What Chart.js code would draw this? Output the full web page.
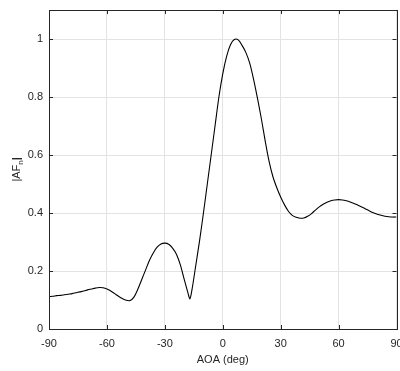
<!DOCTYPE html>
<html>
<head>
<meta charset="utf-8">
<script src="https://cdn.jsdelivr.net/npm/chart.js@4"></script>
<style>
  html, body { margin: 0; padding: 0; background: #fff; }
  #wrap { width: 400px; height: 371px; position: relative; }
</style>
</head>
<body>
<div id="wrap"><canvas id="afChart"></canvas></div>
<script>
// angle of arrival (deg) and normalised array factor
const angles = [-90, -88, -86, -84, -82, -80, -78, -76, -74, -72, -70, -68, -66, -64, -62, -60,
  -58, -56, -54, -52, -50, -48, -46, -44, -42, -40, -38, -36, -34, -32, -30, -28, -26, -24, -22,
  -20, -18, -17, -16, -14, -12, -10, -8, -6, -4, -2, 0, 2, 4, 6, 8, 10, 12, 14, 16, 18, 20, 22,
  24, 26, 28, 30, 32, 34, 36, 38, 40, 42, 44, 46, 48, 50, 52, 54, 56, 58, 60, 62, 64, 66, 68,
  70, 72, 74, 76, 78, 80, 82, 84, 86, 88, 90];
const afValues = [0.112, 0.113, 0.115, 0.116, 0.118, 0.120, 0.122, 0.125, 0.128, 0.131, 0.135, 0.138, 0.141, 0.143, 0.142, 0.138,
  0.131, 0.122, 0.113, 0.105, 0.099, 0.098, 0.110, 0.137, 0.170, 0.203, 0.236, 0.262, 0.282, 0.293, 0.296, 0.292, 0.279, 0.258, 0.222,
  0.172, 0.124, 0.104, 0.133, 0.218, 0.305, 0.40, 0.50, 0.60, 0.70, 0.80, 0.88, 0.94, 0.98, 0.998, 0.997, 0.978, 0.953, 0.916, 0.860, 0.795, 0.725, 0.648,
  0.578, 0.525, 0.487, 0.455, 0.428, 0.406, 0.392, 0.385, 0.382, 0.383, 0.389, 0.398, 0.410, 0.421, 0.430, 0.437, 0.442, 0.445, 0.446, 0.445, 0.442, 0.438, 0.433,
  0.427, 0.421, 0.414, 0.407, 0.401, 0.396, 0.392, 0.389, 0.387, 0.386, 0.386];
const xTicks = [-90, -60, -30, 0, 30, 60, 90];
const yTicks = [0, 0.2, 0.4, 0.6, 0.8, 1];

const AXIS_COLOR = '#262626';
const FONT = 'Liberation Sans, Arial, sans-serif';

// MATLAB style box with inward ticks + rotated y label with subscript
const boxPlugin = {
  id: 'boxPlugin',
  afterDraw(chart) {
    const { ctx, chartArea: a, scales } = chart;
    ctx.save();
    ctx.strokeStyle = AXIS_COLOR;
    ctx.lineWidth = 1;
    ctx.strokeRect(Math.round(a.left) + 0.5, Math.round(a.top) + 0.5,
      Math.round(a.right - a.left), Math.round(a.bottom - a.top));
    const tl = 4;
    ctx.beginPath();
    xTicks.forEach(v => {
      const px = Math.round(scales.x.getPixelForValue(v)) + 0.5;
      ctx.moveTo(px, a.bottom); ctx.lineTo(px, a.bottom - tl);
      ctx.moveTo(px, a.top); ctx.lineTo(px, a.top + tl);
    });
    yTicks.forEach(v => {
      const py = Math.round(scales.y.getPixelForValue(v)) + 0.5;
      ctx.moveTo(a.left, py); ctx.lineTo(a.left + tl, py);
      ctx.moveTo(a.right, py); ctx.lineTo(a.right - tl, py);
    });
    ctx.stroke();

    // y label |AF_n|
    ctx.translate(16, (a.top + a.bottom) / 2);
    ctx.rotate(-Math.PI / 2);
    ctx.fillStyle = AXIS_COLOR;
    ctx.textBaseline = 'alphabetic';
    ctx.font = '11px ' + FONT;
    const main = '|AF';
    const sub = 'n';
    const w1 = ctx.measureText(main).width;
    ctx.font = '8px ' + FONT;
    const w2 = ctx.measureText(sub).width;
    ctx.font = '11px ' + FONT;
    const w3 = ctx.measureText('|').width;
    let x0 = -(w1 + w2 + w3) / 2;
    ctx.fillText(main, x0, 4);
    ctx.font = '8px ' + FONT;
    ctx.fillText(sub, x0 + w1, 7);
    ctx.font = 'bold 11px ' + FONT;
    ctx.fillText('|', x0 + w1 + w2, 4);
    ctx.restore();
  }
};

const ctx = document.getElementById('afChart').getContext('2d');
const afChart = new Chart(ctx, {
  type: 'line',
  data: {
    datasets: [{
      data: angles.map((a, i) => ({ x: a, y: afValues[i] })),
      borderColor: '#000000',
      borderWidth: 1.1,
      pointRadius: 0,
      fill: false,
      tension: 0.3
    }]
  },
  options: {
    responsive: true,
    maintainAspectRatio: false,
    animation: false,
    layout: { padding: { top: 10, right: 3.5, left: 0, bottom: 0 } },
    plugins: { legend: { display: false }, tooltip: { enabled: false } },
    scales: {
      x: {
        type: 'linear',
        min: -90, max: 90,
        afterBuildTicks: s => { s.ticks = xTicks.map(v => ({ value: v })); },
        afterFit: s => { s.height = 42; s.paddingLeft = 0; s.paddingRight = 0; },
        grid: { color: '#e3e3e3', drawTicks: false },
        border: { display: false },
        ticks: { color: AXIS_COLOR, font: { family: FONT, size: 11 }, padding: 8, maxRotation: 0,
          callback: v => String(v) },
        title: { display: true, text: 'AOA (deg)', color: AXIS_COLOR, font: { family: FONT, size: 11 }, padding: { top: 1 } }
      },
      y: {
        min: 0, max: 1.1,
        afterBuildTicks: s => { s.ticks = yTicks.map(v => ({ value: v })); },
        afterFit: s => { s.width = 49; s.paddingTop = 0; s.paddingBottom = 0; },
        grid: { color: '#e3e3e3', drawTicks: false },
        border: { display: false },
        ticks: { color: AXIS_COLOR, font: { family: FONT, size: 11 }, padding: 6,
          callback: v => String(v) }
      }
    }
  },
  plugins: [boxPlugin]
});
</script>
</body>
</html>
